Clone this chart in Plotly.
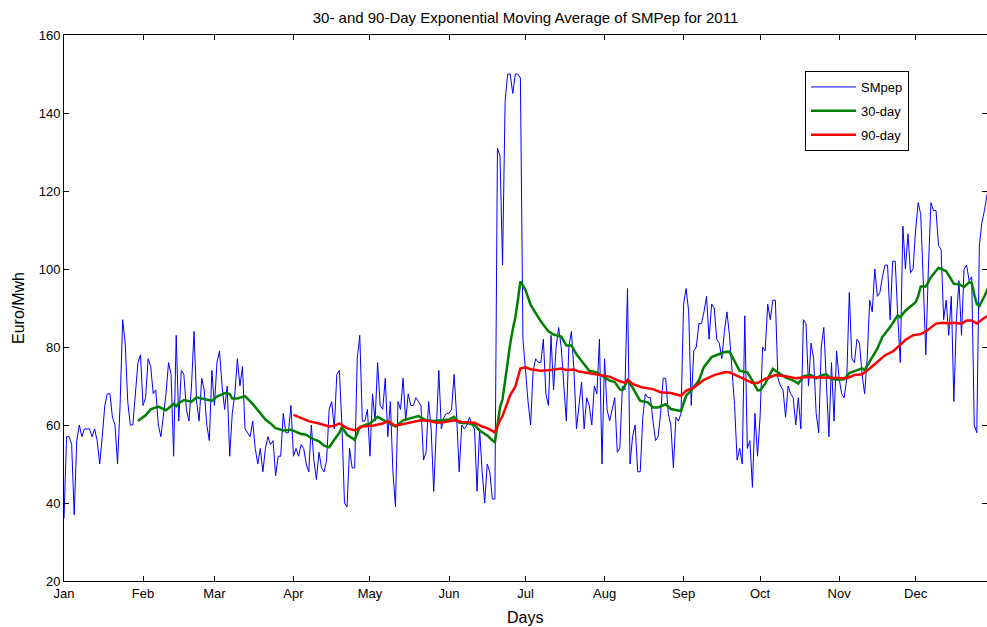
import plotly.graph_objects as go

# ---------------- data ----------------
month_labels = ["Jan", "Feb", "Mar", "Apr", "May", "Jun", "Jul", "Aug", "Sep", "Oct", "Nov", "Dec"]
month_start_days = [1, 32, 60, 91, 121, 152, 182, 213, 244, 274, 305, 335]

smpep_jan_feb = [36, 57, 57, 55, 37, 56, 60, 57, 59, 59, 59, 57, 59, 56, 50, 57, 65, 68, 68, 62,
                 60, 50, 65, 87, 81, 66, 60, 60, 69, 76, 78, 65, 67, 77, 75, 68]
smpep_feb_mar = [69, 60, 57, 63, 68, 76, 73, 52, 83, 61, 74, 73, 64, 61, 70, 84, 66, 61, 72, 69,
                 60, 56, 74, 65, 76, 79, 70, 64, 70, 52, 63, 68, 77, 70, 75, 59, 58]
smpep_mar_apr = [57, 61, 54, 50, 54, 48, 54, 57, 55, 56, 47, 52, 52, 63, 58, 58, 65, 52, 54, 52,
                 55, 54, 50, 48, 60, 51, 46, 53, 49, 48, 51, 64, 66, 59, 73, 74]
smpep_apr_may = [60, 40, 39, 54, 49, 49, 77, 83, 61, 61, 64, 52, 68, 61, 76, 65, 64, 72, 57, 66,
                 48, 39, 66, 64, 72, 61, 68, 65, 65, 67, 66, 65, 51, 53, 66, 59, 43, 60, 74]
smpep_jun = [59, 62, 63, 63, 64, 73, 62, 48, 60, 59, 60, 62, 60, 59, 43, 59, 48, 40, 50, 48, 41, 41]
smpep_spike = [131, 129, 101, 143, 150, 150, 145, 150, 150, 149, 82, 73, 66, 60, 74]
smpep_jul_aug = [77, 76, 76, 82, 68, 65, 83, 69, 80, 85, 80, 69, 61, 80, 84, 74, 59, 65, 71, 59,
                 67, 65, 60, 70, 68, 82, 50, 77, 64, 61, 64, 67, 53, 54, 70, 69, 95, 50]
smpep_aug_sep = [57, 60, 48, 48, 62, 68, 67, 67, 61, 56, 57, 63, 72, 72, 63, 60, 49, 62, 61, 63,
                 91, 95, 89, 65, 79, 80, 86, 86, 89, 93, 82, 91, 90, 82, 81, 77, 84, 89]
smpep_sep_oct = [83, 74, 65, 51, 54, 50, 88, 54, 56, 44, 63, 52, 62, 80, 79, 91, 87, 92, 92, 72,
                 70, 69, 62, 70, 68, 67, 60, 67, 59, 87, 86, 70, 81, 77, 63, 58, 80]
smpep_nov = [85, 70, 57, 76, 61, 79, 72, 68, 67, 72, 94, 77, 76, 82, 81, 73, 68, 77, 92, 89,
             100, 93, 94, 98, 101, 101, 87, 102, 102, 88]
smpep_dec = [76, 111, 100, 109, 99, 100, 110, 117, 114, 97, 78, 100, 117, 115, 115, 106, 105, 87, 92, 83,
             93, 66, 87, 97, 83, 100, 101, 97, 98, 60, 58, 106, 112, 115, 119, 121, 122]

smpep = (smpep_jan_feb + smpep_feb_mar + smpep_mar_apr + smpep_apr_may + smpep_jun + smpep_spike
         + smpep_jul_aug + smpep_aug_sep + smpep_sep_oct + smpep_nov + smpep_dec)
days = list(range(1, len(smpep) + 1))

ema30_days = [30, 33, 35, 38, 41, 44, 45, 46, 48, 51, 53, 56, 59, 61, 64, 66, 67, 69, 72, 75,
              77, 80, 82, 84, 87, 90, 94, 96, 98, 101, 103, 105, 107, 109, 110, 112, 115, 117, 121, 124,
              127, 131, 134, 137, 140, 143, 146, 149, 152, 154, 156, 160, 162, 164, 167, 170, 171, 172, 173, 174,
              175, 176, 177, 178, 179, 180, 181, 182, 184, 186, 188, 191, 193, 196, 198, 200, 202, 205, 207, 210,
              213, 215, 217, 219, 220, 222, 224, 227, 230, 232, 234, 237, 239, 243, 245, 247, 250, 252, 255, 258,
              260, 262, 265, 266, 269, 271, 273, 274, 276, 279, 281, 284, 287, 289, 291, 294, 296, 298, 300, 302,
              305, 307, 309, 311, 314, 315, 317, 320, 322, 325, 328, 329, 331, 333, 335, 336, 337, 339, 341, 344,
              347, 348, 350, 352, 354, 356, 357, 358, 359, 360, 362, 364]
ema30_vals = [61.0, 62.5, 64.0, 64.7, 63.8, 65.4, 64.8, 65.6, 66.4, 66.0, 67.1, 66.6, 66.2, 67.3, 68.2, 68.0, 66.8, 66.8, 67.4, 65.4,
              63.8, 61.4, 60.4, 59.2, 58.6, 58.8, 57.7, 57.5, 56.6, 55.8, 54.7, 54.3, 56.2, 58.0, 59.5, 57.5, 56.2, 59.5, 60.4, 62.1,
              61.0, 59.6, 61.2, 61.7, 62.3, 61.2, 61.0, 61.2, 61.4, 62.1, 60.6, 60.4, 60.0, 58.6, 57.3, 55.5, 60.4, 64.5, 66.6, 71.5,
              76.5, 80.8, 84.5, 87.5, 92.0, 96.8, 95.8, 94.6, 90.8, 88.7, 86.6, 84.0, 83.2, 82.7, 80.4, 80.4, 78.1, 75.6, 73.9, 73.5,
              72.2, 71.4, 71.0, 69.1, 68.9, 71.4, 69.6, 66.2, 65.8, 64.5, 64.5, 65.3, 64.1, 63.6, 67.5, 68.9, 71.4, 74.9, 77.4, 78.1,
              78.7, 78.8, 75.3, 73.9, 73.5, 71.4, 68.9, 68.9, 70.6, 74.4, 73.5, 72.2, 71.4, 70.6, 72.5, 72.8, 72.0, 72.8, 73.0, 71.8,
              71.6, 71.8, 73.3, 73.8, 74.5, 74.1, 76.2, 79.6, 82.6, 85.1, 88.1, 87.6, 89.3, 90.3, 91.5, 93.0, 95.5, 95.5, 97.9, 100.3,
              99.4, 98.4, 96.2, 96.1, 95.4, 96.6, 96.4, 93.5, 91.0, 90.5, 93.0, 96.0]

ema90_days = [91, 94, 97, 101, 105, 107, 109, 111, 112, 115, 118, 122, 126, 128, 131, 135, 141, 144, 147, 150,
              154, 157, 162, 165, 167, 170, 171, 172, 173, 174, 175, 176, 178, 180, 182, 184, 186, 188, 192, 196,
              198, 201, 203, 207, 211, 215, 219, 221, 222, 224, 228, 232, 235, 239, 243, 245, 248, 252, 256, 260,
              262, 265, 267, 271, 273, 276, 280, 284, 288, 292, 296, 300, 305, 308, 311, 314, 317, 320, 323, 326,
              328, 331, 334, 337, 339, 341, 343, 346, 348, 350, 353, 355, 357, 359, 362, 365]
ema90_vals = [62.6, 61.8, 61.0, 60.4, 59.6, 59.8, 60.4, 59.6, 59.2, 58.6, 59.6, 59.8, 60.4, 61.0, 59.8, 60.4, 61.2, 61.1, 60.6, 60.7,
              61.2, 60.8, 60.6, 59.6, 59.2, 58.1, 59.7, 61.2, 62.3, 64.0, 65.9, 67.7, 69.8, 74.5, 74.8, 74.3, 74.1, 73.9, 74.1, 74.5,
              74.1, 74.2, 73.7, 73.3, 72.9, 72.4, 71.2, 70.8, 71.6, 70.5, 69.6, 69.2, 68.4, 68.2, 67.5, 68.8, 69.6, 71.6, 72.8, 73.5,
              73.5, 72.7, 72.0, 70.8, 70.8, 71.8, 72.8, 72.5, 72.0, 72.3, 72.2, 72.2, 72.0, 72.0, 72.8, 73.0, 74.5, 76.2, 77.9, 78.8,
              80.0, 81.8, 83.0, 83.3, 84.0, 85.1, 86.0, 86.2, 86.0, 86.2, 86.0, 86.8, 86.8, 86.0, 87.5, 88.5]

# ---------------- figure ----------------
FONT = "Liberation Sans, Arial, Helvetica, sans-serif"
FIG_W, FIG_H = 987, 627

fig = go.Figure()
fig.add_trace(go.Scatter(x=days, y=smpep, mode="lines", name="SMpep", legendgroup="a",
                         line=dict(color="#0000ff", width=1)))
fig.add_trace(go.Scatter(x=ema30_days, y=ema30_vals, mode="lines", name="30-day", legendgroup="b",
                         line=dict(color="#008000", width=2.5)))
fig.add_trace(go.Scatter(x=ema90_days, y=ema90_vals, mode="lines", name="90-day", legendgroup="c",
                         line=dict(color="#ff0000", width=2.5)))

axis_common = dict(showgrid=False, zeroline=False, showline=True, linecolor="black", linewidth=1,
                   mirror="allticks", ticks="inside", ticklen=5, tickcolor="black", tickwidth=1,
                   tickfont=dict(family=FONT, size=13, color="black"))

fig.update_layout(
    width=FIG_W, height=FIG_H,
    margin=dict(l=64, r=0, t=35, b=46),
    paper_bgcolor="white", plot_bgcolor="white",
    font=dict(family=FONT, size=13, color="black"),
    title=dict(text="30- and 90-Day Exponential Moving Average of SMPep for 2011",
               x=0.5, xref="paper", y=1 - 18 / FIG_H, yref="container", yanchor="middle",
               font=dict(family=FONT, size=15, color="black")),
    xaxis=dict(range=[1, 363], tickvals=month_start_days, ticktext=month_labels, **axis_common),
    yaxis=dict(range=[20, 160], tickvals=list(range(20, 161, 20)), **axis_common),
    legend=dict(x=(805 - 64) / 923, y=(581 - 71) / 546, xanchor="left", yanchor="top",
                bordercolor="black", borderwidth=1, bgcolor="white", tracegroupgap=4,
                font=dict(family=FONT, size=13, color="black"), itemwidth=45),
    showlegend=True,
    annotations=[
        dict(text="Euro/Mwh", x=(18 - 64) / 923, y=0.5, xref="paper", yref="paper",
             textangle=-90, showarrow=False, font=dict(family=FONT, size=16, color="black"),
             xanchor="center", yanchor="middle"),
        dict(text="Days", x=(525 - 64) / 923, y=(581 - 617) / 546, xref="paper", yref="paper",
             showarrow=False, font=dict(family=FONT, size=16, color="black"),
             xanchor="center", yanchor="middle"),
    ],
)

# remove the default page margin so the 987x627 figure fills the window exactly
fig.write_html("out.html",
               config={"displayModeBar": False},
               post_script="document.body.style.margin='0';document.body.style.overflow='hidden';")
